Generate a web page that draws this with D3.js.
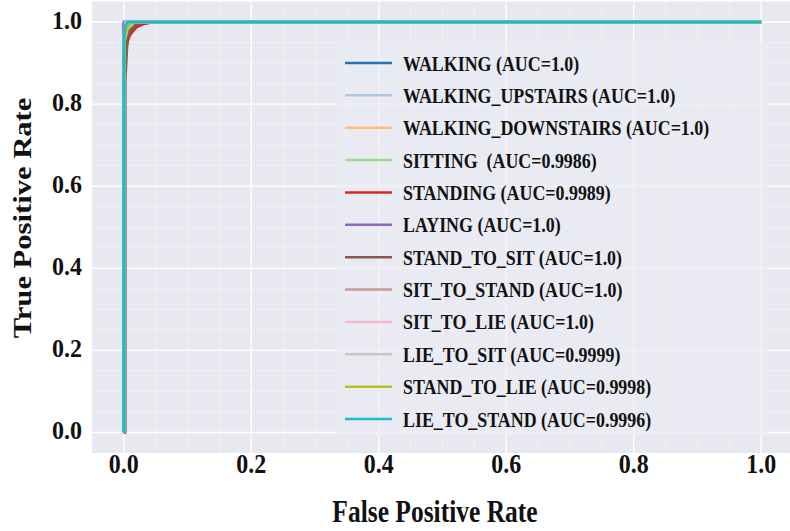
<!DOCTYPE html>
<html><head><meta charset="utf-8">
<script src="https://cdn.jsdelivr.net/npm/d3@7"></script>
<style>body{margin:0;background:#fff}svg{display:block}text{font-family:"Liberation Serif","Times New Roman",serif;font-weight:bold;fill:#111}</style>
</head><body><svg id="c" width="790" height="531"></svg>
<script>
const classNames = ["WALKING (AUC=1.0)","WALKING_UPSTAIRS (AUC=1.0)","WALKING_DOWNSTAIRS (AUC=1.0)","SITTING  (AUC=0.9986)","STANDING (AUC=0.9989)","LAYING (AUC=1.0)","STAND_TO_SIT (AUC=1.0)","SIT_TO_STAND (AUC=1.0)","SIT_TO_LIE (AUC=1.0)","LIE_TO_SIT (AUC=0.9999)","STAND_TO_LIE (AUC=0.9998)","LIE_TO_STAND (AUC=0.9996)"];
const colors = ["#1f77b4","#aec7e8","#ffbb78","#98df8a","#d62728","#9467bd","#8c564b","#c49c94","#f7b6d2","#c7c7c7","#bcbd22","#17becf"];
const fprWalking = [0,0,0.001,1];            const tprWalking = [0,0.99,1,1];
const fprUpstairs = [0,0,0.002,1];           const tprUpstairs = [0,0.98,1,1];
const fprDownstairs = [0,0,0.003,1];         const tprDownstairs = [0,0.97,1,1];
const fprSitting = [0,0,0.002,0.005,0.01,0.02,0.03,1]; const tprSitting = [0,0.9,0.95,0.975,0.99,0.997,1,1];
const fprStanding = [0,0,0.003,0.006,0.01,0.015,0.02,0.03,0.045,1]; const tprStanding = [0,0.88,0.93,0.955,0.97,0.98,0.988,0.995,1,1];
const fprLaying = [0,0,1];                   const tprLaying = [0,1,1];
const fprStandToSit = [0,0.002,0.002,0.005,0.01,0.02,0.03,1]; const tprStandToSit = [0,0,0.86,0.95,0.98,0.995,1,1];
const fprSitToStand = [0,0,0.004,1];         const tprSitToStand = [0,0.95,1,1];
const fprSitToLie = [0,0,0.003,1];           const tprSitToLie = [0,0.96,1,1];
const fprLieToSit = [0,0,0.004,0.01,1];      const tprLieToSit = [0,0.95,0.99,1,1];
const fprStandToLie = [0,0,0.002,0.006,0.012,1]; const tprStandToLie = [0,0.93,0.97,0.99,1,1];
const fprLieToStand = [0,0,0.002,0.006,1];   const tprLieToStand = [0,0.96,0.99,1,1];
const fprs = [fprWalking,fprUpstairs,fprDownstairs,fprSitting,fprStanding,fprLaying,fprStandToSit,fprSitToStand,fprSitToLie,fprLieToSit,fprStandToLie,fprLieToStand];
const tprs = [tprWalking,tprUpstairs,tprDownstairs,tprSitting,tprStanding,tprLaying,tprStandToSit,tprSitToStand,tprSitToLie,tprLieToSit,tprStandToLie,tprLieToStand];
const tickValues = [0,0.2,0.4,0.6,0.8,1.0];
const tickLabels = ["0.0","0.2","0.4","0.6","0.8","1.0"];
const minorTicks = d3.range(0,1.0001,0.05);

const svg = d3.select("#c");
const pl=92, pr=793, pt=1.5, pb=453;
const x = d3.scaleLinear().domain([-0.05,1.05]).range([pl,pr]);
const y = d3.scaleLinear().domain([-0.05,1.05]).range([pb,pt]);

svg.append("rect").attr("x",pl).attr("y",pt).attr("width",pr-pl).attr("height",pb-pt).attr("fill","#e8e8f1");
const g = svg.append("g");
// minor grid
g.selectAll(".mx").data(minorTicks).join("line").attr("x1",d=>x(d)).attr("x2",d=>x(d)).attr("y1",pt).attr("y2",pb).attr("stroke","#fff").attr("stroke-opacity",0.45).attr("stroke-width",0.8);
g.selectAll(".my").data(minorTicks).join("line").attr("y1",d=>y(d)).attr("y2",d=>y(d)).attr("x1",pl).attr("x2",pr).attr("stroke","#fff").attr("stroke-opacity",0.45).attr("stroke-width",0.8);
// major grid
g.selectAll(".gx").data(tickValues).join("line").attr("x1",d=>x(d)).attr("x2",d=>x(d)).attr("y1",pt).attr("y2",pb).attr("stroke","#fff").attr("stroke-width",1.3);
g.selectAll(".gy").data(tickValues).join("line").attr("y1",d=>y(d)).attr("y2",d=>y(d)).attr("x1",pl).attr("x2",pr).attr("stroke","#fff").attr("stroke-width",1.3);

// legend box (behind curves? legend is drawn on top in matplotlib; curves don't reach it)
const line = d3.line().x(d=>x(d[0])).y(d=>y(d[1]));
fprs.forEach((f,i)=>{
  const pts = f.map((v,j)=>[v,tprs[i][j]]);
  svg.append("path").attr("d",line(pts)).attr("fill","none").attr("stroke",colors[i]).attr("stroke-width",3).attr("stroke-linejoin","round");
});

const lg = svg.append("g");
lg.append("rect").attr("x",336).attr("y",42).attr("width",432).attr("height",394).attr("fill","#ebebf3").attr("fill-opacity",0.7);
const ly = d3.scaleLinear().domain([0,11]).range([63,419]);
classNames.forEach((n,i)=>{
  lg.append("line").attr("x1",345).attr("x2",392).attr("y1",ly(i)).attr("y2",ly(i)).attr("stroke",colors[i]).attr("stroke-width",2.5);
  lg.append("text").attr("transform",`translate(403,${ly(i)}) scale(1,1.2)`).attr("dy","0.35em").attr("font-size",17.9).attr("xml:space","preserve").text(n);
});

// tick labels
svg.selectAll(".xt").data(tickValues).join("text").attr("transform",(d)=>`translate(${x(d)},473) scale(1,1.12)`).attr("text-anchor","middle").attr("font-size",24).text((d,i)=>tickLabels[i]);
svg.selectAll(".yt").data(tickValues).join("text").attr("transform",(d)=>`translate(82,${y(d)-2}) scale(1,1.05)`).attr("text-anchor","end").attr("dy","0.35em").attr("font-size",24).text((d,i)=>tickLabels[i]);

// axis titles
svg.append("text").attr("transform","translate(435,522) scale(1,1.2)").attr("text-anchor","middle").attr("font-size",25.5).text("False Positive Rate");
svg.append("text").attr("transform","translate(31,218) rotate(-90) scale(1.2,1)").attr("text-anchor","middle").attr("font-size",25.5).text("True Positive Rate");
</script></body></html>
